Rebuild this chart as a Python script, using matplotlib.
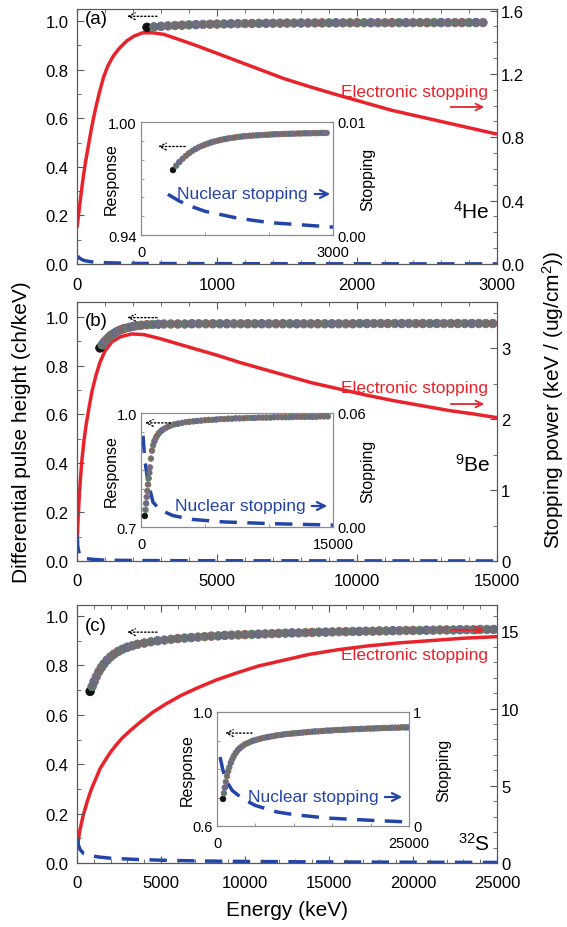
import matplotlib

matplotlib.use("Agg")
import matplotlib.pyplot as plt
from matplotlib.patches import FancyArrowPatch
from matplotlib.ticker import FormatStrFormatter, MultipleLocator

plt.rcParams.update(
    {
        "font.family": ["Liberation Sans", "DejaVu Sans"],
        "mathtext.fontset": "custom",
        "mathtext.rm": "Liberation Sans",
        "mathtext.it": "Liberation Sans:italic",
        "mathtext.bf": "Liberation Sans:bold",
        "font.size": 12,
        "xtick.direction": "in",
        "ytick.direction": "in",
        "xtick.major.size": 5,
        "ytick.major.size": 5,
        "xtick.minor.size": 3,
        "ytick.minor.size": 3,
        "axes.edgecolor": "0.35",
        "xtick.color": "0.35",
        "ytick.color": "0.35",
        "xtick.labelcolor": "black",
        "ytick.labelcolor": "black",
    }
)

W, H = 567, 928
RED = "#e8232b"
BLUE = "#2445a8"
EDGE_CYCLE = ["#9a5858", "#588a60", "#58649a", "#8a6a96", "#7a7a5a"]

# ---- 4He ----
HE_E = [
    500, 550, 600, 650, 700, 750, 800, 850, 900, 950,
    1000, 1050, 1100, 1150, 1200, 1250, 1300, 1350, 1400, 1450,
    1500, 1550, 1600, 1650, 1700, 1750, 1800, 1850, 1900, 1950,
    2000, 2050, 2100, 2150, 2200, 2250, 2300, 2350, 2400, 2450,
    2500, 2550, 2600, 2650, 2700, 2750, 2800, 2850, 2900,
]
HE_RESP = [
    0.9745, 0.9768, 0.9788, 0.9805, 0.9820, 0.9834, 0.9846, 0.9856, 0.9865, 0.9873,
    0.9880, 0.9886, 0.9892, 0.9897, 0.9901, 0.9905, 0.9909, 0.9912, 0.9915, 0.9917,
    0.9920, 0.9922, 0.9924, 0.9925, 0.9927, 0.9928, 0.9929, 0.9930, 0.9931, 0.9932,
    0.9933, 0.9934, 0.9935, 0.9935, 0.9936, 0.9937, 0.9937, 0.9938, 0.9938, 0.9939,
    0.9939, 0.9940, 0.9940, 0.9940, 0.9941, 0.9941, 0.9942, 0.9942, 0.9942,
]
HE_ELEC_E = [0, 15, 30, 45, 60, 80, 100, 120, 140, 165, 190, 220, 257, 300,
             357, 410, 470, 540, 620, 720, 850, 1000, 1150, 1300, 1480, 1660,
             1850, 2050, 2250, 2450, 2650, 2850, 3000]
HE_ELEC = [0.23, 0.34, 0.45, 0.55, 0.64, 0.74, 0.84, 0.93, 1.01, 1.10, 1.18,
           1.25, 1.31, 1.36, 1.41, 1.44, 1.46, 1.46, 1.45, 1.42, 1.38, 1.33,
           1.28, 1.23, 1.17, 1.12, 1.07, 1.02, 0.97, 0.93, 0.89, 0.85, 0.82]
HE_NUC_E = [5, 20, 50, 100, 200, 420, 600, 800, 1000, 1500, 2000, 2500, 3000]
HE_NUC = [0.05, 0.035, 0.022, 0.014, 0.008, 0.0036, 0.0030, 0.0025, 0.0021,
          0.0015, 0.0011, 0.0009, 0.0007]

# ---- 9Be ----
BE_E = [
    820, 900, 980, 1060, 1140, 1220, 1300, 1400, 1500, 1600,
    1700, 1850, 2000, 2150, 2300, 2500, 2700, 2900, 3100, 3350,
    3600, 3850, 4100, 4350, 4600, 4850, 5100, 5350, 5600, 5850,
    6100, 6350, 6600, 6850, 7100, 7350, 7600, 7850, 8100, 8350,
    8600, 8850, 9100, 9350, 9600, 9850, 10100, 10350, 10600, 10850,
    11100, 11350, 11600, 11850, 12100, 12350, 12600, 12850, 13100, 13350,
    13600, 13850, 14100, 14350, 14600, 14850,
]
BE_RESP = [
    0.872, 0.885, 0.897, 0.907, 0.916, 0.924, 0.930, 0.937, 0.943, 0.948,
    0.952, 0.956, 0.960, 0.963, 0.965, 0.967, 0.968, 0.969, 0.970, 0.970,
    0.970, 0.970, 0.971, 0.971, 0.971, 0.971, 0.971, 0.971, 0.971, 0.971,
    0.971, 0.971, 0.971, 0.971, 0.971, 0.971, 0.971, 0.971, 0.971, 0.971,
    0.971, 0.971, 0.971, 0.971, 0.971, 0.971, 0.972, 0.972, 0.972, 0.972,
    0.972, 0.972, 0.972, 0.972, 0.972, 0.972, 0.972, 0.972, 0.972, 0.972,
    0.972, 0.972, 0.972, 0.972, 0.972, 0.972,
]
BE_IN_E = [
    300, 350, 400, 450, 500, 550, 600, 650, 700, 780,
    860, 950, 1050, 1150, 1250, 1400, 1550, 1700, 1900, 2100,
    2300, 2600, 2900, 3200, 3500, 3800, 4100, 4400, 4700, 5000,
    5300, 5600, 5900, 6200, 6500, 6800, 7100, 7400, 7700, 8000,
    8300, 8600, 8900, 9200, 9500, 9800, 10100, 10400, 10700, 11000,
    11300, 11600, 11900, 12200, 12500, 12800, 13100, 13400, 13700, 14000,
    14300, 14600,
]
BE_IN_RESP = [
    0.729, 0.745, 0.762, 0.779, 0.795, 0.812, 0.828, 0.843, 0.857, 0.880,
    0.901, 0.915, 0.926, 0.934, 0.940, 0.947, 0.952, 0.956, 0.960, 0.964,
    0.967, 0.970, 0.972, 0.974, 0.976, 0.977, 0.978, 0.979, 0.980, 0.981,
    0.982, 0.982, 0.983, 0.984, 0.984, 0.985, 0.985, 0.986, 0.986, 0.986,
    0.987, 0.987, 0.987, 0.988, 0.988, 0.988, 0.988, 0.989, 0.989, 0.989,
    0.989, 0.989, 0.990, 0.990, 0.990, 0.990, 0.990, 0.990, 0.990, 0.991,
    0.991, 0.991,
]
BE_ELEC_E = [0, 40, 80, 120, 180, 250, 330, 420, 540, 680, 820, 1000, 1250,
             1550, 1960, 2400, 3000, 3600, 4300, 5000, 5800, 6600, 7500, 8400,
             9300, 10300, 11300, 12300, 13300, 14200, 15000]
BE_ELEC = [0.25, 0.60, 0.90, 1.15, 1.44, 1.70, 1.93, 2.14, 2.40, 2.62, 2.80,
           2.96, 3.09, 3.16, 3.20, 3.19, 3.13, 3.06, 2.98, 2.90, 2.80, 2.71,
           2.61, 2.51, 2.43, 2.34, 2.26, 2.19, 2.12, 2.07, 2.02]
BE_NUC_E = [10, 30, 80, 160, 300, 540, 940, 1500, 2500, 4000, 6400, 10000, 15000]
BE_NUC = [0.35, 0.20, 0.10, 0.048, 0.035, 0.024, 0.013, 0.009, 0.006, 0.004,
          0.0027, 0.0018, 0.001]

# ---- 32S ----
S_E = [
    780, 900, 1020, 1150, 1300, 1450, 1600, 1800, 2000, 2200,
    2450, 2700, 3000, 3300, 3600, 4000, 4400, 4800, 5200, 5600,
    6000, 6400, 6800, 7200, 7600, 8000, 8400, 8800, 9200, 9600,
    10000, 10400, 10800, 11200, 11600, 12000, 12400, 12800, 13200, 13600,
    14000, 14400, 14800, 15200, 15600, 16000, 16400, 16800, 17200, 17600,
    18000, 18400, 18800, 19200, 19600, 20000, 20400, 20800, 21200, 21600,
    22000, 22400, 22800, 23200, 23600, 24000, 24400, 24800,
]
S_RESP = [
    0.695, 0.715, 0.735, 0.755, 0.775, 0.792, 0.806, 0.822, 0.835, 0.846,
    0.857, 0.866, 0.874, 0.880, 0.886, 0.891, 0.896, 0.900, 0.903, 0.906,
    0.909, 0.911, 0.913, 0.915, 0.917, 0.919, 0.920, 0.922, 0.923, 0.924,
    0.925, 0.926, 0.927, 0.928, 0.929, 0.930, 0.931, 0.932, 0.932, 0.933,
    0.934, 0.935, 0.935, 0.936, 0.937, 0.937, 0.938, 0.938, 0.939, 0.939,
    0.940, 0.940, 0.941, 0.941, 0.942, 0.942, 0.942, 0.943, 0.943, 0.944,
    0.944, 0.944, 0.945, 0.945, 0.945, 0.946, 0.946, 0.946,
]
S_ELEC_E = [0, 50, 100, 170, 250, 350, 480, 600, 750, 900, 1100, 1370, 1650,
            1950, 2300, 2700, 3200, 3800, 4500, 5300, 6200, 7200, 8300, 9500,
            10800, 12200, 13800, 15500, 17300, 19200, 21100, 23000, 25000]
S_ELEC = [0.9, 1.3, 1.6, 2.1, 2.5, 3.0, 3.5, 3.95, 4.45, 4.9, 5.4, 6.1, 6.6,
          7.1, 7.6, 8.1, 8.6, 9.15, 9.75, 10.3, 10.85, 11.35, 11.85, 12.3,
          12.75, 13.1, 13.5, 13.8, 14.05, 14.25, 14.4, 14.55, 14.65]
S_NUC_E = [20, 100, 200, 400, 800, 1300, 2000, 3400, 5000, 7800, 10000, 14300,
           20000, 25000]
S_NUC = [1.6, 1.1, 0.85, 0.605, 0.48, 0.386, 0.31, 0.237, 0.18, 0.123, 0.10,
         0.07, 0.05, 0.035]


def fx(x):
    return x / W


def fy(y):
    return 1 - y / H


def draw_response(ax, energy, resp, size):
    n = len(energy)
    face = ["#111111"] + ["#6e6e76"] * (n - 1)
    edge = ["#111111"] + [EDGE_CYCLE[i % len(EDGE_CYCLE)] for i in range(1, n)]
    ax.scatter(energy, resp, s=size, c=face, edgecolors=edge,
               linewidths=0.6, zorder=3)


def dotted_arrow(ax, x0, x1, y):
    ax.annotate("", xy=(x0, y), xytext=(x1, y),
                arrowprops=dict(arrowstyle="->", linestyle=":", color="k",
                                lw=1.0, shrinkA=0, shrinkB=0))


def main_panel(rect, xmax, xmajor, xminor, lylim, rylim, rmajor, rminor, rfmt):
    ax = fig.add_axes(rect)
    axr = ax.twinx()
    ax.set_zorder(axr.get_zorder() + 1)
    ax.patch.set_visible(False)
    ax.set_xlim(0, xmax)
    ax.set_ylim(*lylim)
    axr.set_ylim(*rylim)
    ax.xaxis.set_major_locator(MultipleLocator(xmajor))
    ax.xaxis.set_minor_locator(MultipleLocator(xminor))
    ax.yaxis.set_major_locator(MultipleLocator(0.2))
    ax.yaxis.set_minor_locator(MultipleLocator(0.1))
    ax.yaxis.set_major_formatter(FormatStrFormatter("%.1f"))
    axr.yaxis.set_major_locator(MultipleLocator(rmajor))
    axr.yaxis.set_minor_locator(MultipleLocator(rminor))
    axr.yaxis.set_major_formatter(FormatStrFormatter(rfmt))
    ax.tick_params(which="both", top=True)
    ax.tick_params(axis="x", labelsize=12, pad=9)
    ax.tick_params(axis="y", labelsize=12, pad=6)
    axr.tick_params(labelsize=12, pad=3)
    return ax, axr


def inset_panel(rect, xmax, ylim, ylabels, rylim, rlabels, yminor, xminor):
    ins = fig.add_axes(rect)
    insr = ins.twinx()
    insr.set_zorder(10)
    insr.patch.set_facecolor("white")
    ins.set_zorder(11)
    ins.patch.set_visible(False)
    for a in (ins, insr):
        for s in a.spines.values():
            s.set_edgecolor("0.55")
    ins.set_xlim(0, xmax)
    ins.set_ylim(*ylim)
    insr.set_ylim(*rylim)
    ins.set_xticks([0, xmax], ["0", str(xmax)])
    ins.set_yticks(list(ylim), ylabels)
    insr.set_yticks(list(rylim), rlabels)
    ins.xaxis.set_minor_locator(MultipleLocator(xminor))
    ins.yaxis.set_minor_locator(MultipleLocator(yminor))
    ins.tick_params(which="both", length=2.5, labelsize=10.5, pad=3,
                    color="0.55")
    ins.tick_params(axis="x", pad=7)
    insr.tick_params(which="both", length=2.5, labelsize=10.5, pad=3,
                     color="0.55")
    ins.set_ylabel("Response", fontsize=11.5)
    ins.yaxis.set_label_coords(-0.115, 0.5)
    insr.set_ylabel("Stopping", fontsize=11.5)
    insr.yaxis.set_label_coords(1.14, 0.5)
    return ins, insr


fig = plt.figure(figsize=(W / 100, H / 100), dpi=100)
line_kw = dict(color=RED, lw=2.5, solid_capstyle="butt")
dash_kw = dict(color=BLUE, lw=2.5, dashes=(5, 3))

# panel (a): 4He
ax, axr = main_panel([fx(77), fy(265), fx(420), 255 / H], 3000, 1000, 200,
                     (0, 1.05), (0, 1.61), 0.4, 0.1, "%.1f")
axr.plot(HE_ELEC_E, HE_ELEC, **line_kw)
axr.plot(HE_NUC_E, HE_NUC, **dash_kw)
draw_response(ax, HE_E, HE_RESP, 38)
dotted_arrow(ax, 357, 571, 1.02)

ins, insr = inset_panel([fx(141), fy(236), fx(192), 113 / H], 3000,
                        (0.94, 1.00), ["0.94", "1.00"], (0, 0.01),
                        ["0.00", "0.01"], 0.01, 1000)
he_in = [i for i, e in enumerate(HE_NUC_E) if e >= 420]
insr.plot([HE_NUC_E[i] for i in he_in], [HE_NUC[i] for i in he_in], **dash_kw)
draw_response(ins, HE_E, HE_RESP, 16)
dotted_arrow(ins, 265, 690, 0.987)

# panel (b): 9Be
ax, axr = main_panel([fx(77), fy(562), fx(420), 259 / H], 15000, 5000, 1000,
                     (0, 1.06), (0, 3.65), 1, 0.5, "%d")
axr.plot(BE_ELEC_E, BE_ELEC, **line_kw)
axr.plot(BE_NUC_E, BE_NUC, **dash_kw)
draw_response(ax, BE_E, BE_RESP, 38)
dotted_arrow(ax, 1790, 2860, 0.996)

ins, insr = inset_panel([fx(141), fy(528), fx(192), 114 / H], 15000,
                        (0.7, 1.0), ["0.7", "1.0"], (0, 0.06),
                        ["0.00", "0.06"], 0.05, 5000)
be_in = [i for i, e in enumerate(BE_NUC_E) if e >= 160]
insr.plot([BE_NUC_E[i] for i in be_in], [BE_NUC[i] for i in be_in], **dash_kw)
draw_response(ins, BE_IN_E, BE_IN_RESP, 16)
dotted_arrow(ins, 310, 2300, 0.974)

# panel (c): 32S
ax, axr = main_panel([fx(77), fy(864), fx(420), 258 / H], 25000, 5000, 1000,
                     (0, 1.045), (0, 16.7), 5, 1, "%d")
axr.plot(S_ELEC_E, S_ELEC, **line_kw)
axr.plot(S_NUC_E, S_NUC, **dash_kw)
draw_response(ax, S_E, S_RESP, 38)
dotted_arrow(ax, 2980, 4760, 0.935)

ins, insr = inset_panel([fx(217), fy(827), fx(192), 114 / H], 25000,
                        (0.6, 1.0), ["0.6", "1.0"], (0, 1), ["0", "1"],
                        0.1, 5000)
s_in = [i for i, e in enumerate(S_NUC_E) if e >= 400]
insr.plot([S_NUC_E[i] for i in s_in], [S_NUC[i] for i in s_in], **dash_kw)
draw_response(ins, S_E, S_RESP, 16)
dotted_arrow(ins, 1040, 4560, 0.926)

# panel tags and isotopes
for tag, ty in [("(a)", 20), ("(b)", 322), ("(c)", 627)]:
    fig.text(fx(85), fy(ty), tag, fontsize=13.5, va="center", zorder=20)
for iso, ty in [(r"$^{4}$He", 212), (r"$^{9}$Be", 465), (r"$^{32}$S", 844)]:
    fig.text(fx(490), fy(ty), iso, fontsize=15, ha="right", va="center",
             zorder=20)

# curve labels with arrows
for ty, ay in [(92, 108), (388, 405), (656, 631)]:
    fig.text(fx(488), fy(ty), "Electronic stopping", color=RED, fontsize=12.5,
             ha="right", va="center", zorder=20)
    fig.add_artist(FancyArrowPatch(
        (fx(448), fy(ay)), (fx(487), fy(ay)), transform=fig.transFigure,
        arrowstyle="->", mutation_scale=12, color=RED, lw=1.3, zorder=20))

for tx, ty, ax0, ax1 in [(177, 195, 312, 333), (175, 507, 309, 330),
                         (248, 798, 382, 405)]:
    fig.text(fx(tx), fy(ty), "Nuclear stopping", color=BLUE, fontsize=12.5,
             ha="left", va="center", zorder=20)
    fig.add_artist(FancyArrowPatch(
        (fx(ax0), fy(ty)), (fx(ax1), fy(ty)), transform=fig.transFigure,
        arrowstyle="->", mutation_scale=14, color=BLUE, lw=1.6, zorder=20))

fig.text(fx(22), fy(432), "Differential pulse height (ch/keV)", fontsize=15,
         rotation=90, ha="center", va="center")
fig.text(fx(553), fy(400), "Stopping power (keV / (ug/cm$^2$))", fontsize=15,
         rotation=90, ha="center", va="center")
fig.text(fx(287), fy(911), "Energy (keV)", fontsize=15, ha="center",
         va="center")

fig.savefig("out.png", dpi=100)
